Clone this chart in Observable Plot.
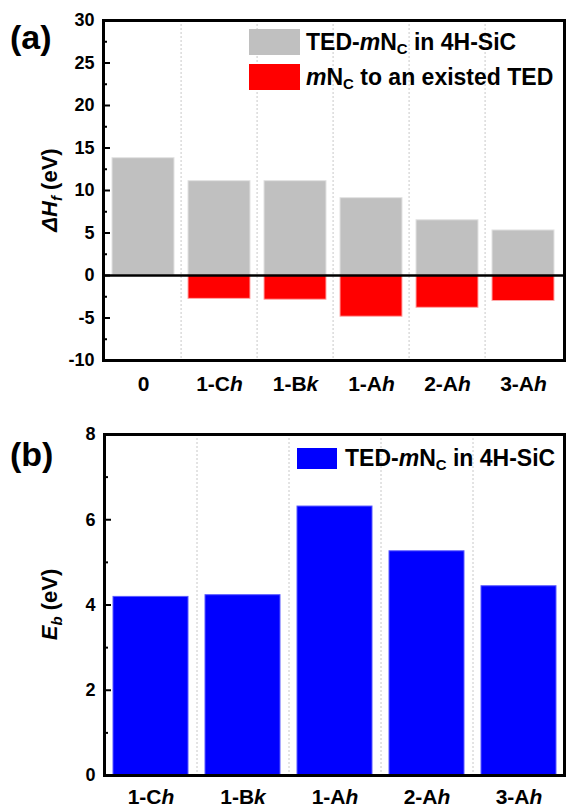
<!DOCTYPE html>
<html><head><meta charset="utf-8">
<script src="https://cdn.jsdelivr.net/npm/d3@7"></script>
<script src="https://cdn.jsdelivr.net/npm/@observablehq/plot@0.6"></script>
<style>
body{margin:0;background:#fff;}
#wrap{position:relative;width:566px;height:810px;font-family:"Liberation Sans",Arial,sans-serif;font-weight:bold;color:#000;}
#wrap svg{display:block;}
.abs{position:absolute;white-space:nowrap;}
.panel{font-size:34px;line-height:1;}
.leg{font-size:23px;line-height:1;display:flex;align-items:center;gap:6px;}
.sw{display:inline-block;}
sub{font-size:65%;vertical-align:-0.3em;line-height:0;}
</style></head><body><div id="wrap"></div>
<script>
// ---- data ----
const catsA = ["0", "1-Ch", "1-Bk", "1-Ah", "2-Ah", "3-Ah"];
const formationTED = [13.8, 11.1, 11.1, 9.1, 6.5, 5.3];
const formationAdd = [null, -2.75, -2.85, -4.85, -3.8, -3.0];
const catsB = ["1-Ch", "1-Bk", "1-Ah", "2-Ah", "3-Ah"];
const bindingEnergy = [4.19, 4.23, 6.31, 5.26, 4.44];
const yTicksA = [-10, -5, 0, 5, 10, 15, 20, 25, 30];
const yMinorA = [-7.5, -2.5, 2.5, 7.5, 12.5, 17.5, 22.5, 27.5];
const yTicksB = [0, 2, 4, 6, 8];
const yMinorB = [1, 3, 5, 7];

const W = 566;
const FONT = "'Liberation Sans', Arial, sans-serif";
const wrap = document.getElementById("wrap");
const hyphenFmt = d => String(d);

function italicize(svg) {
  d3.select(svg).selectAll('g[aria-label="x-axis tick label"] text').each(function () {
    const s = this.textContent;
    const last = s.slice(-1);
    if (/[a-z]/.test(last)) {
      const el = d3.select(this);
      el.text(null);
      el.append("tspan").text(s.slice(0, -1));
      el.append("tspan").attr("font-style", "italic").text(last);
    }
  });
}
function yLabel(svg, parts, cx, cy) {
  const t = d3.select(svg).append("text")
    .attr("transform", `translate(${cx},${cy}) rotate(-90)`)
    .attr("text-anchor", "middle").attr("font-size", 22).attr("font-weight", "bold")
    .attr("font-family", FONT).attr("fill", "black");
  parts.forEach(p => {
    const s = t.append("tspan").text(p.t);
    if (p.i) s.attr("font-style", "italic");
    if (p.sub) s.attr("font-size", 15);
    if (p.dy) s.attr("dy", p.dy);
  });
}

// ---- panel (a) ----
const mA = {top: 20, right: 2, bottom: 40, left: 103};
const frameWA = W - mA.left - mA.right;
const stepA = frameWA / catsA.length;
const rowsA = catsA.map((c, i) => ({cat: c, ted: formationTED[i], add: formationAdd[i]}));
const chartA = Plot.plot({
  width: W, height: 400,
  marginTop: mA.top, marginRight: mA.right, marginBottom: mA.bottom, marginLeft: mA.left,
  style: {fontFamily: FONT, fontWeight: "bold", background: "white", overflow: "visible"},
  x: {domain: catsA, paddingInner: 0.18, paddingOuter: 0.09},
  y: {domain: [-10, 30]},
  marks: [
    Plot.ruleX(catsA.slice(1), {x: d => d, dx: -stepA / 2, stroke: "#c8c8c8", strokeDasharray: "2,2"}),
    Plot.barY(rowsA, {x: "cat", y: "ted", fill: "#c0c0c0", stroke: "#e2e2e2", strokeWidth: 1}),
    Plot.barY(rowsA.filter(d => d.add != null), {x: "cat", y: "add", fill: "#ff0000", stroke: "#ffa8a8", strokeWidth: 1}),
    Plot.ruleY([0], {stroke: "black", strokeWidth: 2.5}),
    Plot.tickY(yTicksA, {y: d => d, insetRight: frameWA - 7, stroke: "black", strokeWidth: 2}),
    Plot.tickY(yMinorA, {y: d => d, insetRight: frameWA - 4, stroke: "black", strokeWidth: 2}),
    Plot.axisY({ticks: yTicksA, tickFormat: hyphenFmt, tickSize: 0, tickPadding: 9, fontSize: 18, label: null}),
    Plot.axisX({tickSize: 0, tickPadding: 16, fontSize: 21, label: null}),
    Plot.frame({stroke: "black", strokeWidth: 3})
  ]
});
italicize(chartA);
yLabel(chartA, [{t: "ΔH", i: 1}, {t: "f", i: 1, sub: 1, dy: 5}, {t: " (eV)", dy: -5}], 57, (mA.top + 400 - mA.bottom) / 2);

// ---- panel (b) ----
const mB = {top: 34, right: 2, bottom: 35, left: 104};
const frameWB = W - mB.left - mB.right;
const stepB = frameWB / catsB.length;
const rowsB = catsB.map((c, i) => ({cat: c, eb: bindingEnergy[i]}));
const chartB = Plot.plot({
  width: W, height: 410,
  marginTop: mB.top, marginRight: mB.right, marginBottom: mB.bottom, marginLeft: mB.left,
  style: {fontFamily: FONT, fontWeight: "bold", background: "white", overflow: "visible"},
  x: {domain: catsB, paddingInner: 0.185, paddingOuter: 0.0925},
  y: {domain: [0, 8]},
  marks: [
    Plot.ruleX(catsB.slice(1), {x: d => d, dx: -stepB / 2, stroke: "#c8c8c8", strokeDasharray: "2,2"}),
    Plot.barY(rowsB, {x: "cat", y: "eb", fill: "#0000ff", stroke: "#5a5aff", strokeWidth: 1}),
    Plot.tickY(yTicksB, {y: d => d, insetRight: frameWB - 7, stroke: "black", strokeWidth: 2}),
    Plot.tickY(yMinorB, {y: d => d, insetRight: frameWB - 4, stroke: "black", strokeWidth: 2}),
    Plot.axisY({ticks: yTicksB, tickFormat: hyphenFmt, tickSize: 0, tickPadding: 9, fontSize: 18, label: null}),
    Plot.axisX({tickSize: 0, tickPadding: 14, fontSize: 21, label: null}),
    Plot.frame({stroke: "black", strokeWidth: 3})
  ]
});
italicize(chartB);
yLabel(chartB, [{t: "E", i: 1}, {t: "b", i: 1, sub: 1, dy: 5}, {t: " (eV)", dy: -5}], 57, (mB.top + 410 - mB.bottom) / 2);

wrap.appendChild(chartA);
wrap.appendChild(chartB);

// ---- overlay text: panel tags and legends ----
function addAbs(html, cls, left, top, extra) {
  const d = document.createElement("div");
  d.className = "abs " + cls;
  d.style.left = left + "px";
  d.style.top = top + "px";
  if (extra) Object.assign(d.style, extra);
  d.innerHTML = html;
  wrap.appendChild(d);
}
addAbs("(a)", "panel", 10, 20);
addAbs("(b)", "panel", 10, 437);
const legA = [
  {color: "#c0c0c0", html: "TED-<i>m</i>N<sub>C</sub> in 4H-SiC", top: 29},
  {color: "#ff0000", html: "<i>m</i>N<sub>C</sub> to an existed TED", top: 64}
];
legA.forEach(l => addAbs(`<span class="sw" style="width:51px;height:26px;background:${l.color}"></span><span>${l.html}</span>`, "leg", 249, l.top, {height: "26px"}));
addAbs(`<span class="sw" style="width:40px;height:21px;background:#0000ff"></span><span>TED-<i>m</i>N<sub>C</sub> in 4H-SiC</span>`, "leg", 297, 448, {height: "21px", gap: "8px"});
</script>
</body></html>
